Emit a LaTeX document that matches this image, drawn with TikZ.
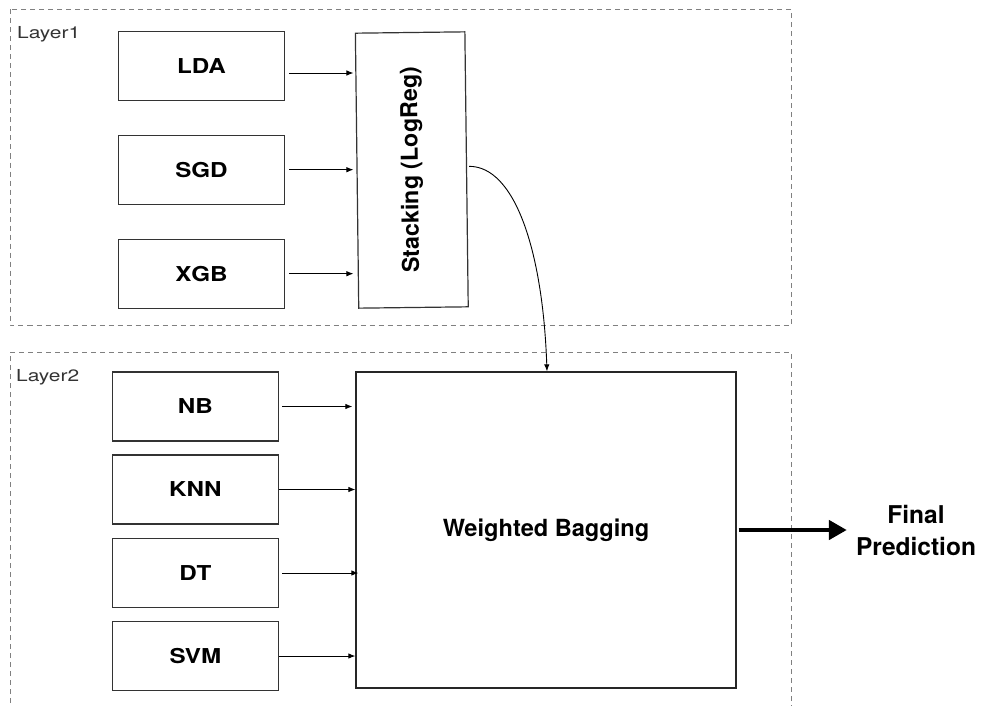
\documentclass[tikz,border=0pt]{standalone}
\usepackage{fontspec}
\setmainfont{TeX Gyre Heros}
\usetikzlibrary{arrows.meta}

\newcommand{\mtext}[1]{\scalebox{1.18}[1]{#1}}
\newcommand{\ltext}[1]{\scalebox{1.27}[1]{#1}}

\tikzset{
  model/.style={draw=black!80, line width=1.2pt, minimum width=166pt, minimum height=69pt,
    inner sep=0pt, font=\bfseries\fontsize{20.5}{24}\selectfont},
  layerbox/.style={draw=black!50, line width=0.9pt, dash pattern=on 5pt off 4pt},
  layername/.style={anchor=base west, inner sep=0pt, text=black!80, font=\fontsize{16.5}{20}\selectfont},
  arr/.style={-{Latex[length=7pt,width=5.5pt]}, line width=0.9pt},
}

\begin{document}
\begin{tikzpicture}[x=1pt,y=1pt]
\useasboundingbox (0,0) rectangle (982,-706);

% 第一层
\draw[layerbox] (10,-9.5) rectangle (791.5,-325);
\node[layername] (l1) at (17,-38.5) {\ltext{Layer1}};
\node[model] (lda) at (201.5,-66) {\mtext{LDA}};
\node[model] (sgd) at (201.5,-169.7) {\mtext{SGD}};
\node[model] (xgb) at (201.5,-273.7) {\mtext{XGB}};
\node[model, rotate=90.7, minimum width=275pt, minimum height=109.5pt,
  font=\bfseries\fontsize{23.3}{27}\selectfont] (stack) at (411.8,-170) {Stacking (LogReg)};

\draw[arr, shorten >=3pt] ([shift={(4pt,-7pt)}]lda.east) coordinate (s1) -- (s1 -| stack.north);
\draw[arr, shorten >=3pt] ([xshift=4pt]sgd.east) coordinate (s2) -- (s2 -| stack.north);
\draw[arr, shorten >=3pt] ([xshift=4pt]xgb.east) coordinate (s3) -- (s3 -| stack.north);

% 第二层
\draw[layerbox] (10,-712) -- (10,-352.3) -- (791.5,-352.3) -- (791.5,-712);
\node[layername] (l2) at (16,-381.7) {\ltext{Layer2}};
\node[model] (nb) at (195.4,-406.5) {\mtext{NB}};
\node[model] (knn) at (195.4,-489.5) {\mtext{KNN}};
\node[model] (dt) at (195.4,-573) {\mtext{DT}};
\node[model] (svm) at (195.4,-656) {\mtext{SVM}};
\node[draw=black!85, line width=1.3pt, minimum width=380pt, minimum height=316pt,
  font=\bfseries\fontsize{23.6}{27}\selectfont] (bag) at (546,-530) {Weighted Bagging};

\foreach \m/\a/\b in {nb/3/3, knn/0/0, dt/3/-3, svm/0/0}
  \draw[arr, shorten <=\a pt, shorten >=\b pt] (\m.east) -- (\m.east -| bag.west);

\draw[arr] ([shift={(2pt,3pt)}]stack.south) to[out=0, in=92, out distance=46pt, in distance=120pt]
  ([xshift=1pt]bag.north);

% 输出
\node[inner sep=0pt, align=center, font=\bfseries\fontsize{24.5}{31.7}\selectfont] (fin) at (916,-530.4)
  {Final\\Prediction};
\draw[-{Triangle[length=18pt,width=19pt]}, line width=4.5pt, shorten <=2pt, shorten >=9pt]
  (bag.east) -- (bag.east -| fin.west);
\end{tikzpicture}
\end{document}
